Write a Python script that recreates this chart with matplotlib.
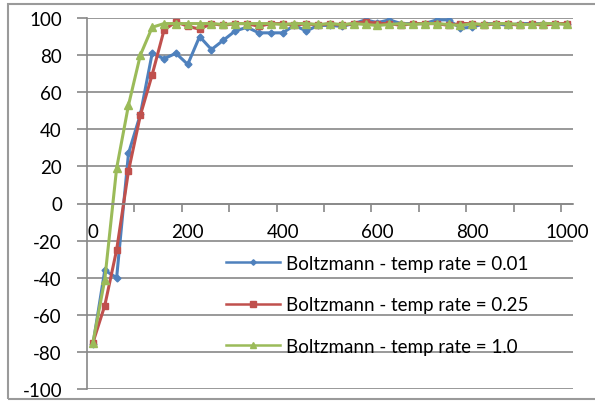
import matplotlib
matplotlib.use("Agg")
from matplotlib import pyplot as plt
from matplotlib.patches import Rectangle

steps = [0, 25, 50, 75, 100, 125, 150, 175, 200, 225, 250, 275, 300, 325, 350,
         375, 400, 425, 450, 475, 500, 525, 550, 575, 600, 625, 650, 675, 700,
         725, 750, 775, 800, 825, 850, 875, 900, 925, 950, 975, 1000]

t001 = [-76, -36, -40, 27, 48, 81, 78, 81, 75, 90, 83, 88, 93, 95, 92, 92, 92,
        96, 93, 96, 96, 95.5, 97, 99, 97.5, 99, 97, 97, 97, 99, 99, 94.5, 95,
        97, 97, 96, 97, 97, 97, 97, 97]
t025 = [-75, -55, -25, 17.5, 47.5, 69.5, 93.5, 98, 95.5, 94, 97, 96, 97, 97,
        95.5, 97, 97, 96, 97, 96, 97, 96, 97, 98, 97, 97, 96, 97, 97, 97, 96,
        97, 97, 96, 97, 97, 96, 97, 96, 97, 97]
t100 = [-75, -41, 19, 53, 80, 95, 97, 97, 97, 97, 97, 96.5, 97, 97, 97, 97,
        96.5, 97, 97, 96.5, 97, 96.5, 97, 96.5, 96, 96.5, 97, 96.5, 97, 97,
        96.5, 96, 97, 96.5, 97, 97, 96.5, 96.5, 97, 97, 96.5]

labels = ['Boltzmann - temp rate = 0.01', 'Boltzmann - temp rate = 0.25',
          'Boltzmann - temp rate = 1.0']

plt.rcParams['font.family'] = ['Lato', 'DejaVu Sans']
plt.rcParams['axes.unicode_minus'] = False

fig = plt.figure(figsize=(5.95, 4.02), dpi=100)
ax = fig.add_axes([87/595, 12/402, 486/595, 371/402])

grey = '#888888'
pos = list(range(len(steps)))

ax.plot(pos, t001, color='#4F81BD', lw=2.2, marker='D', ms=3.5, label=labels[0])
ax.plot(pos, t025, color='#C0504D', lw=2.2, marker='s', ms=5, label=labels[1])
ax.plot(pos, t100, color='#9BBB59', lw=2.2, marker='^', ms=5.5, label=labels[2])

ax.set_xlim(-0.5, len(steps) - 0.5)
ax.set_ylim(-100, 100)
ax.set_yticks(range(-100, 101, 20))
ax.yaxis.grid(True, color=grey, lw=1.2)
ax.set_axisbelow(True)

# category axis: tick marks between groups of 4, labels every 8th category
ax.set_xticks([k - 0.5 for k in range(4, len(steps), 4)])
ax.set_xticklabels([])
ax.set_xticks([i for i in pos if steps[i] % 200 == 0], minor=True)
ax.set_xticklabels([str(s) for s in steps if s % 200 == 0], minor=True)
ax.tick_params(axis='x', which='major', direction='out', length=6, width=1.2, color=grey)
ax.tick_params(axis='x', which='minor', length=0, pad=14, labelsize=13.5)
ax.tick_params(axis='y', direction='out', length=7, width=1.2, color=grey,
               labelsize=13.5, pad=11)

for s in ['top', 'right']:
    ax.spines[s].set_visible(False)
ax.spines['left'].set_color(grey)
ax.spines['left'].set_linewidth(1.2)
ax.spines['bottom'].set_position(('data', 0))
ax.spines['bottom'].set_color(grey)
ax.spines['bottom'].set_linewidth(1.2)

leg = ax.legend(loc='upper left', bbox_to_anchor=(0.27, 0.382), frameon=False,
                fontsize=13.5, handlelength=2.9, labelspacing=1.3,
                handletextpad=0.3, borderaxespad=0, markerscale=0.8)
for h in leg.get_lines():
    h.set_linewidth(1.8)

fig.patches.append(Rectangle((8/595, 2/402), 1.0, 395/402, transform=fig.transFigure,
                             fill=False, edgecolor='#9a9a9a', lw=1.5))

fig.savefig('out.png', dpi=100)
